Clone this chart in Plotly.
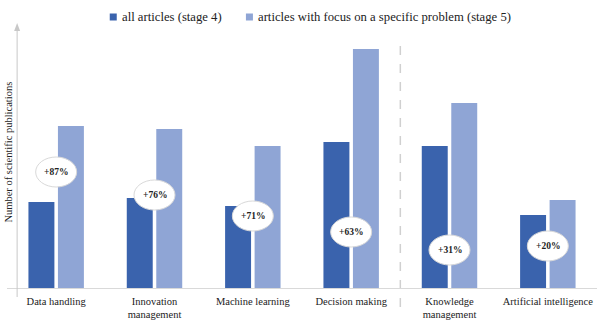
import plotly.graph_objects as go

categories = ["Data handling", "Innovation<br>management", "Machine learning",
              "Decision making", "Knowledge<br>management", "Artificial intelligence"]
stage4 = [86, 90, 82, 146, 142, 73]
stage5 = [162, 159, 142, 239, 185, 88]
growth_labels = ["+87%", "+76%", "+71%", "+63%", "+31%", "+20%"]
label_y = [116, 93, 72, 56, 38, 42]
series_names = ["all articles (stage 4)", "articles with focus on a specific problem (stage 5)"]

W, H = 600, 323
ML, MR, MT, MB = 7.4, 3.4, 30, 35
PW, PH = W - ML - MR, H - MT - MB

def px(x):
    return (x - ML) / PW

def py(y):
    return (H - MB - y) / PH

DARK = "#3A63AD"
LIGHT = "#8FA5D5"
FONT = "Liberation Serif"

fig = go.Figure()
fig.add_trace(go.Bar(x=categories, y=stage4, name=series_names[0], marker_color=DARK,
                     marker_line_width=0, showlegend=False))
fig.add_trace(go.Bar(x=categories, y=stage5, name=series_names[1], marker_color=LIGHT,
                     marker_line_width=0, showlegend=False))

shapes = []
annotations = []
# growth ellipses
for i, (lab, ly) in enumerate(zip(growth_labels, label_y)):
    shapes.append(dict(type="circle", xref="x", yref="y", xsizemode="pixel", ysizemode="pixel",
                       xanchor=i, yanchor=ly, x0=-20.5, x1=20.5, y0=-15, y1=15,
                       fillcolor="white", line=dict(color="#d9d9d9", width=1), layer="above"))
    annotations.append(dict(x=i, y=ly, xref="x", yref="y", text="<b>" + lab + "</b>",
                            showarrow=False, font=dict(family=FONT, size=9.5, color="#222")))

# dashed separator
shapes.append(dict(type="line", xref="x", yref="paper", x0=3.5, x1=3.5, y0=py(307), y1=py(42),
                   line=dict(color="#d0d0d0", width=1.5, dash="dash"), layer="below"))
# y axis line with arrow
shapes.append(dict(type="line", xref="paper", yref="paper", x0=px(17.5), x1=px(17.5),
                   y0=py(297), y1=py(30), line=dict(color="#c8c8c8", width=1)))
shapes.append(dict(type="path", xref="paper", yref="paper",
                   path=f"M {px(14.5)},{py(31)} L {px(17.5)},{py(23)} L {px(20.5)},{py(31)} Z",
                   fillcolor="#c8c8c8", line=dict(width=0)))

# legend
for (sx, tx), name, col in zip([(110, 120), (246, 256)], series_names, [DARK, LIGHT]):
    shapes.append(dict(type="rect", xref="paper", yref="paper", x0=px(sx), x1=px(sx + 7),
                       y0=py(20.5), y1=py(13.5), fillcolor=col, line=dict(width=0)))
    annotations.append(dict(x=px(tx), y=py(17), xref="paper", yref="paper", text=name,
                            xanchor="left", yanchor="middle", showarrow=False,
                            font=dict(family=FONT, size=12.7, color="#222")))

# y title
annotations.append(dict(x=px(8), y=py(152), xref="paper", yref="paper",
                        text="Number of scientific publications", textangle=-90,
                        showarrow=False, xanchor="center", yanchor="middle",
                        font=dict(family=FONT, size=10.5, color="#222")))

fig.update_layout(
    width=W, height=H,
    font=dict(family=FONT, color="#222"),
    margin=dict(l=ML, r=MR, t=MT, b=MB),
    paper_bgcolor="white", plot_bgcolor="white",
    barmode="group", bargap=0.4, bargroupgap=0.12,
    shapes=shapes, annotations=annotations,
    xaxis=dict(showline=True, linecolor="#d9d9d9", linewidth=1, ticks="", showgrid=False,
               ticklabelstandoff=3,
               tickfont=dict(family=FONT, size=10.5, color="#222"), range=[-0.5, 5.5]),
    yaxis=dict(range=[0, PH], visible=False, showgrid=False, zeroline=False),
)

fig.write_html("out.html")
